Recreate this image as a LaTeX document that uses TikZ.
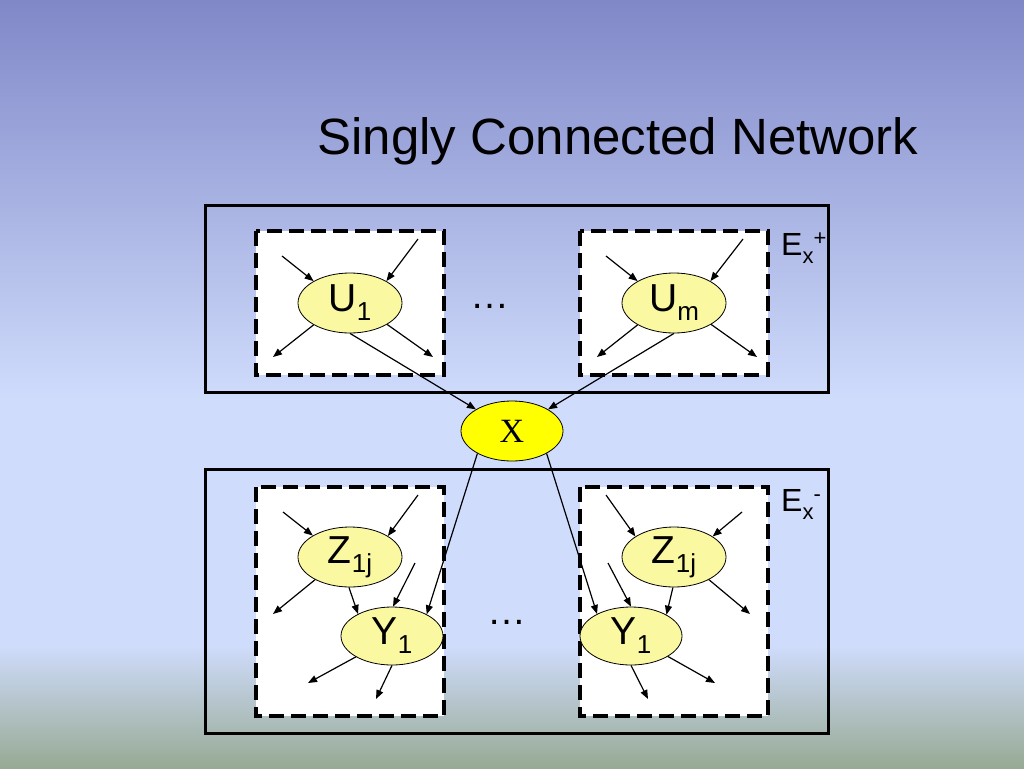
\documentclass[tikz,border=0pt]{standalone}
\usepackage{fontspec}
\setmainfont{Liberation Sans}
\newfontfamily\timesf{Liberation Serif}
\usetikzlibrary{arrows.meta,shapes.geometric}
\definecolor{bgtop}{HTML}{8088C8}
\definecolor{bgmid}{HTML}{D0DCFC}
\definecolor{bgbot}{HTML}{96AA94}
\definecolor{paley}{HTML}{FAF8A0}
\definecolor{brighty}{HTML}{FFFF00}
\newcommand\lsub[1]{\raisebox{-9pt}{\fontsize{26}{26}\selectfont #1}}
\newcommand\esub[1]{\raisebox{-8pt}{\fontsize{22}{22}\selectfont #1}}
\newcommand\esup[1]{\raisebox{10pt}{\fontsize{22}{22}\selectfont #1}}
\begin{document}
\begin{tikzpicture}[x=1pt,y=-1pt,
  outerbox/.style={draw=black,line width=3pt},
  dbox/.style={draw=black,fill=white,line width=3.5pt,dash pattern=on 15pt off 7pt},
  pnode/.style={ellipse,draw=black,line width=0.8pt,fill=paley,minimum width=104pt,minimum height=60pt,inner sep=0pt,font=\fontsize{39}{39}\selectfont},
  ynode/.style={pnode,minimum width=102pt,minimum height=58pt},
  xnode/.style={pnode,fill=brighty,minimum width=102pt,minimum height=60pt,font=\timesf\fontsize{34}{34}\selectfont},
  arr/.style={-{Triangle[length=9pt,width=7pt]},line width=1.2pt},
  lbl/.style={inner sep=0pt,anchor=base west,font=\fontsize{32}{32}\selectfont},
  dots/.style={inner sep=0pt,anchor=base,font=\fontsize{39}{39}\selectfont}
]
\useasboundingbox (0,0) rectangle (1024,768);
% background
\shade[top color=bgtop,bottom color=bgmid] (0,0) rectangle (1024,400);
\fill[bgmid] (0,399) rectangle (1024,646);
\shade[top color=bgmid,bottom color=bgbot] (0,645) rectangle (1024,768);

% title
\node[inner sep=0pt,anchor=base,font=\fontsize{51}{51}\selectfont] (title) at (618,154) {Singly Connected Network};

% boxes
\draw[outerbox] (205,205) rectangle (828,392);
\draw[outerbox] (205,469) rectangle (828,733);
\draw[dbox] (256,231) rectangle (444,375);
\draw[dbox] (580,231) rectangle (768,375);
\draw[dbox] (256,487) rectangle (444,716);
\draw[dbox] (580,487) rectangle (768,716);

% labels
\node[lbl] (eplus) at (781,255) {E\esub{x}\esup{+}};
\node[lbl] (eminus) at (781,511) {E\esub{x}\esup{-}};
\node[dots] (dtop) at (490,308) {…};
\node[dots] (dbot) at (507,624) {…};

% nodes
\node[pnode] (U1) at (350,303) {U\lsub{1}};
\node[pnode] (Um) at (674,303) {U\lsub{m}};
\node[xnode] (X) at (512,431) {X};
\node[pnode] (Z1L) at (350,557) {Z\lsub{1j}};
\node[pnode] (Z1R) at (674,557) {Z\lsub{1j}};
\node[ynode] (Y1L) at (392,636) {Y\lsub{1}};
\node[ynode] (Y1R) at (631,636) {Y\lsub{1}};

% free ends, top left
\coordinate (a1) at (282,256);
\coordinate (a2) at (418,239);
\coordinate (a3) at (273,357);
\coordinate (a4) at (433,357);
% top right
\coordinate (b1) at (606,256);
\coordinate (b2) at (743,239);
\coordinate (b3) at (597,357);
\coordinate (b4) at (757,357);
% bottom left
\coordinate (c1) at (283,512);
\coordinate (c2) at (418,495);
\coordinate (c3) at (273,614);
\coordinate (c4) at (415,563);
\coordinate (c5) at (308,683);
\coordinate (c6) at (376,699);
% bottom right
\coordinate (d1) at (606,495);
\coordinate (d2) at (742,512);
\coordinate (d3) at (750,614);
\coordinate (d4) at (608,563);
\coordinate (d5) at (715,683);
\coordinate (d6) at (648,699);

% arrows top
\draw[arr] (a1) -- (U1.149);
\draw[arr] (a2) -- (U1.31);
\draw[arr] (U1.211) -- (a3);
\draw[arr] (U1.330) -- (a4);
\draw[arr] (b1) -- (Um.149);
\draw[arr] (b2) -- (Um.31);
\draw[arr] (Um.211) -- (b3);
\draw[arr] (Um.330) -- (b4);
\draw[arr] (U1.270) -- (X.149);
\draw[arr] (Um.270) -- (X.31);
% X down
\draw[arr] (X.213) -- (Y1L.32);
\draw[arr] (X.327) -- (Y1R.147);
% bottom left
\draw[arr] (c1) -- (Z1L.150);
\draw[arr] (c2) -- (Z1L.29);
\draw[arr] (Z1L.213) -- (c3);
\draw[arr] (Z1L.268) -- (Y1L.147);
\draw[arr] (c4) -- (Y1L.88);
\draw[arr] (Y1L.210) -- (c5);
\draw[arr] (Y1L.270) -- (c6);
% bottom right
\draw[arr] (d1) -- (Z1R.152);
\draw[arr] (d2) -- (Z1R.28);
\draw[arr] (Z1R.327) -- (d3);
\draw[arr] (Z1R.268) -- (Y1R.31);
\draw[arr] (d4) -- (Y1R.90);
\draw[arr] (Y1R.331) -- (d5);
\draw[arr] (Y1R.270) -- (d6);
\end{tikzpicture}
\end{document}
